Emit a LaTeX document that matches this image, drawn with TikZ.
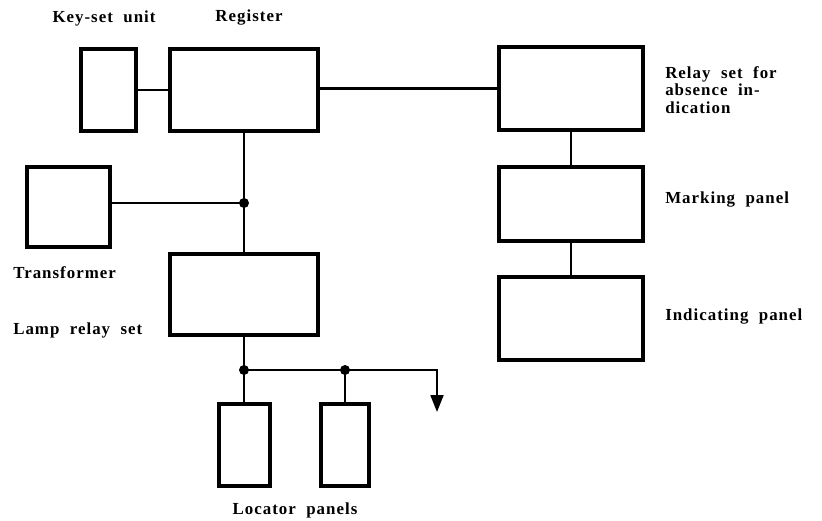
\documentclass[tikz,border=0pt]{standalone}
\usepackage{fontspec}
\setmainfont{Liberation Serif}
\newfontfamily\lblfont{Liberation Serif}[LetterSpace=6,WordSpace=2]
\usetikzlibrary{positioning,arrows.meta}
\tikzset{
  unitbox/.style={draw, line width=1mm, inner sep=0pt},
  unitlink/.style={line width=0.55mm},
  unitlabel/.style={font=\lblfont\bfseries\fontsize{12}{12.5}\selectfont, align=left, inner sep=0pt},
  unitdot/.style={circle, fill, inner sep=0pt, minimum size=2.5mm},
  unitarrow/.style={unitlink, -{Triangle[length=4.2mm,width=3.2mm]}},
}

\begin{document}
\begin{tikzpicture}[x=0.25mm, y=-0.25mm]
  \useasboundingbox (0,0) rectangle (822,520);
  % upper row
  \node[unitbox, minimum width=13.75mm, minimum height=20.5mm] (keyset) at (108.5,90) {};
  \node[unitbox, minimum width=36.75mm, minimum height=20.5mm] (register) at (244,90) {};
  \node[unitbox, minimum width=36mm, minimum height=20.75mm] (relay) at (571,88.5) {};
  \node[unitbox, minimum width=36mm, minimum height=18.5mm] (marking) at (571,204) {};
  \node[unitbox, minimum width=36mm, minimum height=20.75mm] (indicating) at (571,318.5) {};
  % left column
  \node[unitbox, minimum width=20.75mm, minimum height=20mm] (trafo) at (68.5,207) {};
  \node[unitbox, minimum width=37mm, minimum height=20.25mm] (lamp) at (244,294.5) {};
  \node[unitbox, minimum width=12.75mm, minimum height=20.5mm] (locA) at (244,445) {};
  \node[unitbox, minimum width=12mm, minimum height=20.5mm] (locB) at (345,445) {};
  % labels
  \node[unitlabel] (keysetlbl) at (104,18) {Key-set unit};
  \node[unitlabel] (registerlbl) at (249,18) {Register};
  \node[unitlabel, anchor=west] (relaylbl) at (665,90) {Relay set for\\absence in-\\dication};
  \node[unitlabel, anchor=west] (markinglbl) at (665,200) {Marking panel};
  \node[unitlabel, anchor=west] (indicatinglbl) at (665,317) {Indicating panel};
  \node[unitlabel, anchor=west] (trafolbl) at (13,273) {Transformer};
  \node[unitlabel, anchor=west] (lamplbl) at (13,330) {Lamp relay set};
  \node[unitlabel] (loclbl) at (295,510) {Locator panels};
  % junctions
  \coordinate (jtrafo) at (244,203);
  \coordinate (jlocA) at (244,370);
  \coordinate (jlocB) at (345,370);
  \coordinate (jbend) at (437,370);
  \coordinate (onward) at (437,412);
  % connections
  \draw[unitlink] (keyset.east) -- (keyset.east -| register.west);
  \draw[unitlink] (relay.west -| register.east) -- (relay.west);
  \draw[unitlink] (register.south) -- (lamp.north);
  \draw[unitlink] (trafo.east |- jtrafo) -- (jtrafo);
  \draw[unitlink] (relay.south) -- (marking.north);
  \draw[unitlink] (marking.south) -- (indicating.north);
  \draw[unitlink] (lamp.south) -- (jlocA) -- (locA.north);
  \draw[unitlink] (jlocB) -- (locB.north);
  \draw[unitarrow] (jlocA) -- (jbend) -- (onward);
  \node[unitdot] (dtrafo) at (jtrafo) {};
  \node[unitdot] (dlocA) at (jlocA) {};
  \node[unitdot] (dlocB) at (jlocB) {};
\end{tikzpicture}
\end{document}
